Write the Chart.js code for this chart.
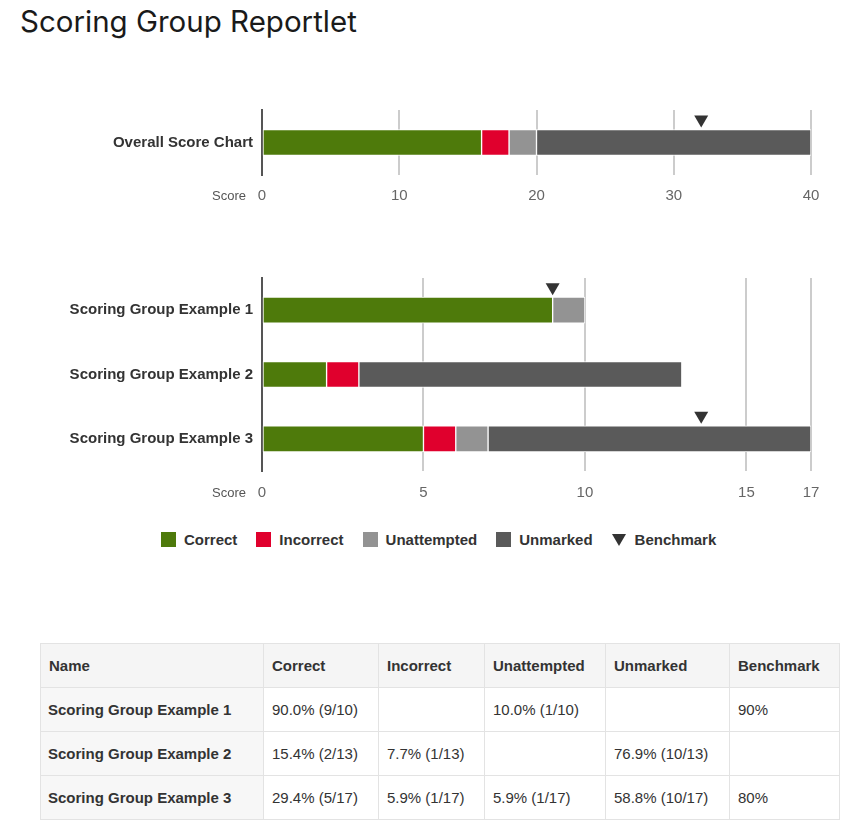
<!DOCTYPE html>
<html>
<head>
<meta charset="utf-8">
<script src="https://cdn.jsdelivr.net/npm/chart.js@4"></script>
<style>
  body { margin: 0; width: 850px; height: 832px; position: relative; background: #fff;
         font-family: "Liberation Sans", Arial, sans-serif; color: #333; }
  h1 { position: absolute; left: 20px; top: 7px; margin: 0; font-family: Inter, sans-serif;
       font-weight: 400; font-size: 29.5px; line-height: 28px; color: #1a1a1a; }
  #overallChart { position: absolute; left: 0; top: 60px; }
  #groupChart { position: absolute; left: 0; top: 250px; }
  #legend { position: absolute; left: 161px; top: 531px; display: flex; align-items: center;
            font-size: 15px; font-weight: bold; color: #333; }
  #legend .item { display: flex; align-items: center; margin-right: 19px; }
  #legend .box { width: 15px; height: 15px; margin-right: 8px; }
  #legend .tri { width: 0; height: 0; border-left: 7px solid transparent; border-right: 7px solid transparent;
                 border-top: 12px solid #333; margin-right: 9px; }
  #tbl { position: absolute; left: 40px; top: 643px; border-collapse: collapse; table-layout: fixed;
         width: 799px; font-size: 15px; color: #333; }
  #tbl th, #tbl td { border: 1px solid #e3e3e3; height: 44px; padding: 0 8px; text-align: left;
                     box-sizing: border-box; }
  #tbl th { background: #f5f5f5; font-weight: bold; }
  #tbl td:first-child { background: #f7f7f7; font-weight: bold; padding-left: 7px; }
</style>
</head>
<body>
<h1>Scoring Group Reportlet</h1>
<canvas id="overallChart" width="850" height="160"></canvas>
<canvas id="groupChart" width="850" height="260"></canvas>
<div id="legend"></div>
<table id="tbl">
  <colgroup>
    <col style="width:223px"><col style="width:115px"><col style="width:106px">
    <col style="width:121px"><col style="width:124px"><col style="width:110px">
  </colgroup>
  <thead><tr id="tblHead"></tr></thead>
  <tbody id="tblBody"></tbody>
</table>
<script>
// series
var seriesNames = ["Correct", "Incorrect", "Unattempted", "Unmarked"];
var seriesColors = ["#4e7a0b", "#e0002d", "#939393", "#5a5a5a"];

// overall chart
var overallLabels = ["Overall Score Chart"];
var overallCorrect = [16];
var overallIncorrect = [2];
var overallUnattempted = [2];
var overallUnmarked = [20];
var overallBenchmark = [32];
var overallTicks = [0, 10, 20, 30, 40];

// scoring groups
var groupLabels = ["Scoring Group Example 1", "Scoring Group Example 2", "Scoring Group Example 3"];
var groupCorrect = [9, 2, 5];
var groupIncorrect = [0, 1, 1];
var groupUnattempted = [1, 0, 1];
var groupUnmarked = [0, 10, 10];
var groupBenchmark = [9, null, 13.6];
var groupTicks = [0, 5, 10, 15, 17];

Chart.defaults.font.family = "'Liberation Sans', Arial, sans-serif";

// triangles above the bars + "Score" caption
var benchmarkPlugin = {
    id: "benchmark",
    afterDatasetsDraw: function(chart, args, opts) {
        var ctx = chart.ctx, xs = chart.scales.x, ys = chart.scales.y;
        ctx.save();
        ctx.fillStyle = "#333";
        opts.values.forEach(function(v, i) {
            if (v === null) return;
            var px = xs.getPixelForValue(v);
            var tip = ys.getPixelForValue(i) - 15;
            ctx.beginPath();
            ctx.moveTo(px - 7, tip - 12);
            ctx.lineTo(px + 7, tip - 12);
            ctx.lineTo(px, tip);
            ctx.closePath();
            ctx.fill();
        });
        ctx.font = "13px 'Liberation Sans', Arial, sans-serif";
        ctx.fillStyle = "#555";
        ctx.textAlign = "right";
        ctx.textBaseline = "middle";
        ctx.fillText("Score", chart.chartArea.left - 16, chart.chartArea.bottom + opts.captionGap);
        ctx.restore();
    }
};

function makeChart(id, labels, series, benchmark, ticks, pad, axisH, tickPad, captionGap) {
    var ctx = document.getElementById(id).getContext("2d");
    return new Chart(ctx, {
        type: "bar",
        data: {
            labels: labels,
            datasets: series.map(function(d, i) {
                return {
                    label: seriesNames[i],
                    data: d,
                    backgroundColor: seriesColors[i],
                    borderColor: "#fff",
                    borderWidth: 1,
                    borderSkipped: false,
                    barThickness: 26
                };
            })
        },
        options: {
            indexAxis: "y",
            responsive: false,
            animation: false,
            layout: { padding: { top: pad[0], right: 39, bottom: pad[1], left: 0 } },
            plugins: {
                legend: { display: false },
                tooltip: { enabled: false },
                benchmark: { values: benchmark, captionGap: captionGap }
            },
            scales: {
                x: {
                    stacked: true,
                    min: ticks[0],
                    max: ticks[ticks.length - 1],
                    border: { display: false },
                    grid: {
                        color: function(c) { return c.tick && c.tick.value === 0 ? "rgba(0,0,0,0)" : "#cccccc"; },
                        lineWidth: 2,
                        drawTicks: false
                    },
                    afterBuildTicks: function(s) {
                        s.ticks = ticks.map(function(v) { return { value: v }; });
                    },
                    afterFit: function(s) { s.height = axisH; },
                    ticks: { padding: tickPad, color: "#666", font: { size: 15 } }
                },
                y: {
                    stacked: true,
                    grid: { display: false, drawTicks: false },
                    border: { display: true, color: "#555", width: 2 },
                    afterFit: function(s) { s.width = 262; },
                    ticks: { padding: 9, color: "#333", font: { size: 15, weight: "bold" } }
                }
            }
        },
        plugins: [benchmarkPlugin]
    });
}

makeChart("overallChart", overallLabels,
    [overallCorrect, overallIncorrect, overallUnattempted, overallUnmarked],
    overallBenchmark, overallTicks, [50, 14], 31, 12, 21);

makeChart("groupChart", groupLabels,
    [groupCorrect, groupIncorrect, groupUnattempted, groupUnmarked],
    groupBenchmark, groupTicks, [28, 7], 32, 13, 22);

// legend
var legend = document.getElementById("legend");
seriesNames.forEach(function(n, i) {
    legend.innerHTML += '<div class="item"><div class="box" style="background:' + seriesColors[i] + '"></div>' + n + '</div>';
});
legend.innerHTML += '<div class="item"><div class="tri"></div>Benchmark</div>';

// table
var head = document.getElementById("tblHead");
["Name"].concat(seriesNames, ["Benchmark"]).forEach(function(h) {
    head.innerHTML += "<th>" + h + "</th>";
});
var body = document.getElementById("tblBody");
groupLabels.forEach(function(name, i) {
    var vals = [groupCorrect[i], groupIncorrect[i], groupUnattempted[i], groupUnmarked[i]];
    var total = vals.reduce(function(a, b) { return a + b; }, 0);
    var row = "<tr><td>" + name + "</td>";
    vals.forEach(function(v) {
        row += "<td>" + (v ? (v / total * 100).toFixed(1) + "% (" + v + "/" + total + ")" : "") + "</td>";
    });
    row += "<td>" + (groupBenchmark[i] !== null ? Math.round(groupBenchmark[i] / total * 100) + "%" : "") + "</td></tr>";
    body.innerHTML += row;
});
</script>
</body>
</html>
